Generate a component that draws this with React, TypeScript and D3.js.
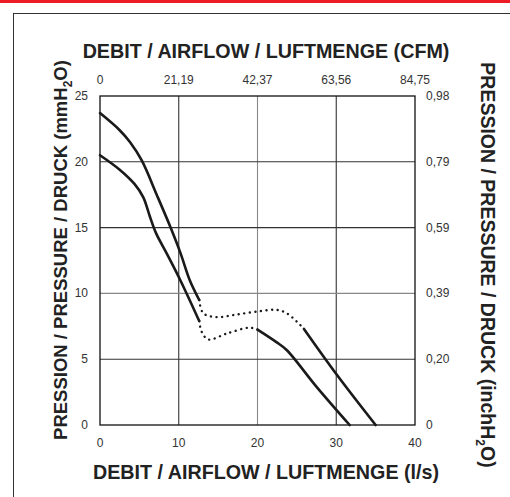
import React from "react";
import * as d3 from "d3";

const xTicksLs = [0, 10, 20, 30, 40];
const xTicksCfm = ["0", "21,19", "42,37", "63,56", "84,75"];
const yTicksMm = [0, 5, 10, 15, 20, 25];
const yTicksInch = ["0", "0,20", "0,39", "0,59", "0,79", "0,98"];

const upperSolidA: [number, number][] = [[0, 23.7], [2.5, 22.4], [3.8, 21.5], [5.3, 20.1], [7.2, 17.5], [8.9, 15.1], [10.2, 13.1], [11.4, 11.0], [12.6, 9.5]];
const upperDotted: [number, number][] = [[12.6, 9.5], [13.1, 8.5], [14.8, 8.2], [17.4, 8.4], [20.3, 8.65], [22.4, 8.75], [23.7, 8.5], [25.0, 7.85], [25.9, 7.3]];
const upperSolidB: [number, number][] = [[25.9, 7.3], [30.1, 3.8], [35.0, 0]];
const lowerSolidA: [number, number][] = [[0, 20.5], [2.5, 19.4], [4.4, 18.3], [5.5, 17.3], [6.3, 15.9], [7.1, 14.6], [8.5, 13.0], [10.2, 11.0], [12.6, 7.9]];
const lowerDotted: [number, number][] = [[12.6, 7.9], [12.9, 7.1], [13.75, 6.5], [16.1, 6.95], [19.0, 7.4], [20.0, 7.25]];
const lowerSolidB: [number, number][] = [[20.0, 7.25], [22.4, 6.3], [23.7, 5.7], [27.5, 2.9], [31.7, 0]];

const solidSeries = [upperSolidA, upperSolidB, lowerSolidA, lowerSolidB];
const dottedSeries = [upperDotted, lowerDotted];

export default function App() {
  const W = 510, H = 497;
  const x = d3.scaleLinear().domain([0, 40]).range([100, 415]);
  const y = d3.scaleLinear().domain([0, 25]).range([425, 96]);
  const line = d3.line<[number, number]>().x(d => x(d[0])).y(d => y(d[1])).curve(d3.curveCatmullRom.alpha(0.5));
  const font = "Liberation Sans, Arial, sans-serif";
  const gridColor = (i: number) => (i === 2 ? "#888" : "#333");
  return (
    <svg width={W} height={H} style={{ position: "absolute", left: 0, top: 0 }} fontFamily={font}>
      <rect x={0} y={0} width={W} height={H} fill="#fff" />
      <rect x={0} y={0} width={W} height={3} fill="#ed1c24" />
      <rect x={13.5} y={13.5} width={520} height={520} fill="none" stroke="#333" strokeWidth={1} />
      {/* grid */}
      {xTicksLs.slice(1, -1).map((t, i) => (
        <line key={"gx" + t} x1={x(t)} x2={x(t)} y1={y(0)} y2={y(25)} stroke={gridColor(i + 1)} strokeWidth={1.1} />
      ))}
      {yTicksMm.slice(1, -1).map((t) => (
        <line key={"gy" + t} x1={x(0)} x2={x(40)} y1={y(t)} y2={y(t)} stroke={t === 10 ? "#888" : "#333"} strokeWidth={1.1} />
      ))}
      <rect x={x(0)} y={y(25)} width={x(40) - x(0)} height={y(0) - y(25)} fill="none" stroke="#111" strokeWidth={1.3} />
      {/* curves */}
      {solidSeries.map((s, i) => (
        <path key={"s" + i} d={line(s) || ""} fill="none" stroke="#1a1a1a" strokeWidth={2.6} strokeLinecap="round" />
      ))}
      {dottedSeries.map((s, i) => (
        <path key={"d" + i} d={line(s) || ""} fill="none" stroke="#1a1a1a" strokeWidth={2.4} strokeLinecap="round" strokeDasharray="0.1 5.5" />
      ))}
      {/* bottom tick labels */}
      {xTicksLs.map(t => (
        <text key={"bx" + t} x={x(t)} y={447} textAnchor="middle" fontSize={12} fill="#333">{t}</text>
      ))}
      {/* top tick labels */}
      {xTicksCfm.map((t, i) => (
        <text key={"tx" + i} x={x(xTicksLs[i])} y={83.5} textAnchor="middle" fontSize={12} fill="#333">{t}</text>
      ))}
      {/* left tick labels */}
      {yTicksMm.map(t => (
        <text key={"ly" + t} x={88} y={y(t) + 4} textAnchor="end" fontSize={12} fill="#333">{t}</text>
      ))}
      {/* right tick labels */}
      {yTicksInch.map((t, i) => (
        <text key={"ry" + i} x={426} y={y(yTicksMm[i]) + 4} textAnchor="start" fontSize={12} fill="#333">{t}</text>
      ))}
      {/* titles */}
      <text x={266} y={57.5} textAnchor="middle" fontSize={19.7} fontWeight="bold" fill="#222">DEBIT / AIRFLOW / LUFTMENGE (CFM)</text>
      <text x={266} y={479} textAnchor="middle" fontSize={19.7} fontWeight="bold" fill="#222">DEBIT / AIRFLOW / LUFTMENGE (l/s)</text>
      <text transform="translate(66.5,250) rotate(-90)" textAnchor="middle" fontSize={18.5} fontWeight="bold" fill="#222">
        PRESSION / PRESSURE / DRUCK (mmH<tspan fontSize={12} dy={5}>2</tspan><tspan dy={-5}>O)</tspan>
      </text>
      <text transform="translate(480.5,265) rotate(90)" textAnchor="middle" fontSize={19.5} fontWeight="bold" fill="#222">
        PRESSION / PRESSURE / DRUCK (inchH<tspan fontSize={12} dy={5}>2</tspan><tspan dy={-5}>O)</tspan>
      </text>
    </svg>
  );
}
